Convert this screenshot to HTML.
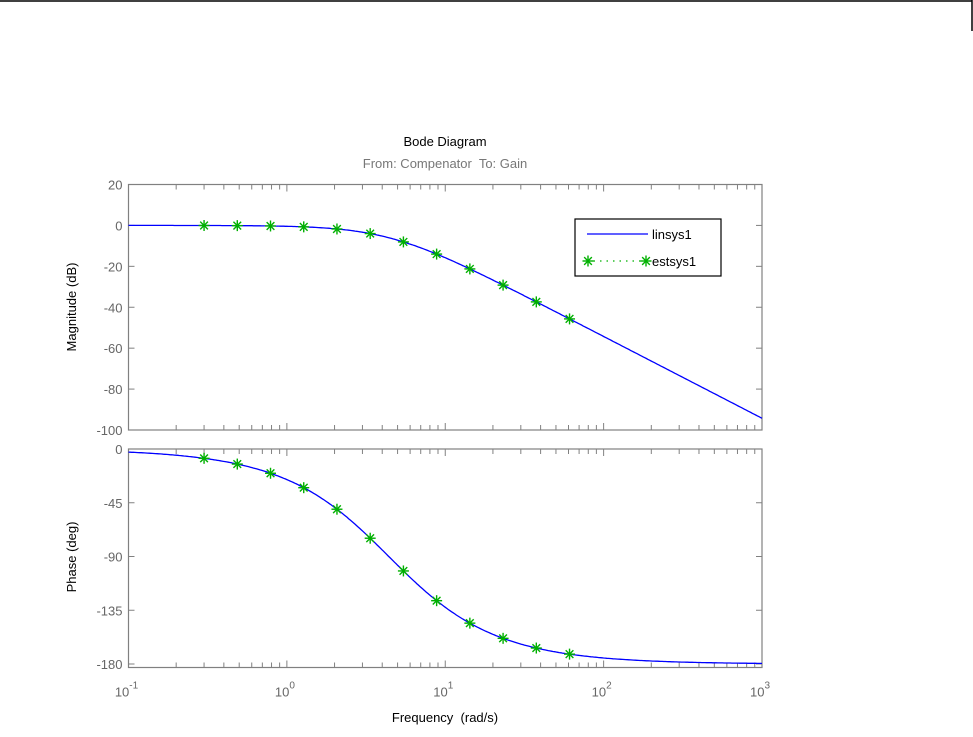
<!DOCTYPE html>
<html><head><meta charset="utf-8"><style>
html,body{margin:0;padding:0;background:#fff;}
svg{display:block;font-family:"Liberation Sans",Arial,sans-serif;}
</style></head><body>
<svg id="s" width="973" height="737" viewBox="0 0 973 737" xmlns="http://www.w3.org/2000/svg">
<line x1="0" y1="1" x2="972" y2="1" stroke="#000" stroke-width="1.5"/>
<line x1="972" y1="0" x2="972" y2="31" stroke="#000" stroke-width="1.5"/>
<text x="445" y="146" font-size="13" text-anchor="middle" fill="#000">Bode Diagram</text>
<text x="445" y="168" font-size="13" text-anchor="middle" fill="#777">From: Compenator&#160; To: Gain</text>
<text x="445" y="722" font-size="13" text-anchor="middle" fill="#000">Frequency&#160; (rad/s)</text>
<text transform="translate(76,307) rotate(-90)" font-size="13" text-anchor="middle" fill="#000">Magnitude (dB)</text>
<text transform="translate(76,557) rotate(-90)" font-size="13" text-anchor="middle" fill="#000">Phase (deg)</text>
<g id="g"></g>
</svg>
<script>
(function(){
var g=document.getElementById('g'),h='';
var X0=128.5,X1=762,D=(X1-X0)/4;
function x(w){return X0+(Math.log10(w)+1)*D;}
var T1=184.5,B1=430,T2=449,B2=667.5;
function ym(m){return T1+(20-m)*(B1-T1)/120;}
function yp(p){return 449+(-p)*(664-449)/180;}
var p1=4.4,p2=4.4,K=p1*p2;
function mag(w){return 20*Math.log10(K/Math.sqrt((w*w+p1*p1)*(w*w+p2*p2)));}
function ph(w){return -(Math.atan(w/p1)+Math.atan(w/p2))*180/Math.PI;}
var ax='#808080',tc='#666';
function frame(t,b){
 h+='<rect x="'+X0+'" y="'+t+'" width="'+(X1-X0)+'" height="'+(b-t)+'" fill="none" stroke="'+ax+'" stroke-width="1.2"/>';
 for(var d=-1;d<3;d++)for(var k=1;k<10;k++){var xx=x(k*Math.pow(10,d));var L=k==1?7:5;
  h+='<line x1="'+xx+'" y1="'+b+'" x2="'+xx+'" y2="'+(b-L)+'" stroke="'+ax+'"/>';
  h+='<line x1="'+xx+'" y1="'+t+'" x2="'+xx+'" y2="'+(t+L)+'" stroke="'+ax+'"/>';}
}
frame(T1,B1);frame(T2,B2);
for(var m=20;m>=-100;m-=20){var y=ym(m);
 h+='<line x1="'+X0+'" y1="'+y+'" x2="'+(X0+6)+'" y2="'+y+'" stroke="'+ax+'"/><line x1="'+X1+'" y1="'+y+'" x2="'+(X1-6)+'" y2="'+y+'" stroke="'+ax+'"/>';
 h+='<text x="'+(X0-6)+'" y="'+(y+5)+'" font-size="13" text-anchor="end" fill="'+tc+'">'+m+'</text>';}
for(var p=0;p>=-180;p-=45){var y=yp(p);
 h+='<line x1="'+X0+'" y1="'+y+'" x2="'+(X0+6)+'" y2="'+y+'" stroke="'+ax+'"/><line x1="'+X1+'" y1="'+y+'" x2="'+(X1-6)+'" y2="'+y+'" stroke="'+ax+'"/>';
 h+='<text x="'+(X0-6)+'" y="'+(y+5)+'" font-size="13" text-anchor="end" fill="'+tc+'">'+p+'</text>';}
for(var d=-1;d<=3;d++){var xx=x(Math.pow(10,d));
 h+='<text x="'+(xx-2)+'" y="'+(B2+29)+'" font-size="13" text-anchor="middle" fill="'+tc+'">10<tspan font-size="10" dy="-8">'+d+'</tspan></text>';}
var a='',b='';
for(var i=0;i<=400;i++){var w=Math.pow(10,-1+4*i/400);a+=x(w).toFixed(1)+','+ym(mag(w)).toFixed(1)+' ';b+=x(w).toFixed(1)+','+yp(ph(w)).toFixed(1)+' ';}
h+='<polyline points="'+a+'" fill="none" stroke="#0000ff" stroke-width="1.3"/>';
h+='<polyline points="'+b+'" fill="none" stroke="#0000ff" stroke-width="1.3"/>';
function star(cx,cy){var s='',r=5.5;
 s+='<g stroke="#00b000" stroke-width="1.4"><line x1="'+cx+'" y1="'+(cy-r)+'" x2="'+cx+'" y2="'+(cy+r)+'"/><line x1="'+(cx-r)+'" y1="'+cy+'" x2="'+(cx+r)+'" y2="'+cy+'"/>';
 var q=r*0.7;s+='<line x1="'+(cx-q)+'" y1="'+(cy-q)+'" x2="'+(cx+q)+'" y2="'+(cy+q)+'"/><line x1="'+(cx-q)+'" y1="'+(cy+q)+'" x2="'+(cx+q)+'" y2="'+(cy-q)+'"/></g>';return s;}
for(var k=0;k<12;k++){var w=0.3*Math.pow(1.621,k);h+=star(x(w),ym(mag(w)));h+=star(x(w),yp(ph(w)));}
h+='<rect x="575" y="219" width="146" height="57" fill="#fff" stroke="#000" stroke-width="1.2"/>';
h+='<line x1="587" y1="234" x2="648" y2="234" stroke="#0000ff" stroke-width="1.3"/>';
h+='<text x="652" y="239" font-size="13" fill="#000">linsys1</text>';
h+='<line x1="587" y1="261" x2="646" y2="261" stroke="#00b000" stroke-width="1.3" stroke-dasharray="1.5,5"/>';
h+=star(588,261)+star(646,261);
h+='<text x="652" y="266" font-size="13" fill="#000">estsys1</text>';
g.innerHTML=h;
})();
</script>
</body></html>
